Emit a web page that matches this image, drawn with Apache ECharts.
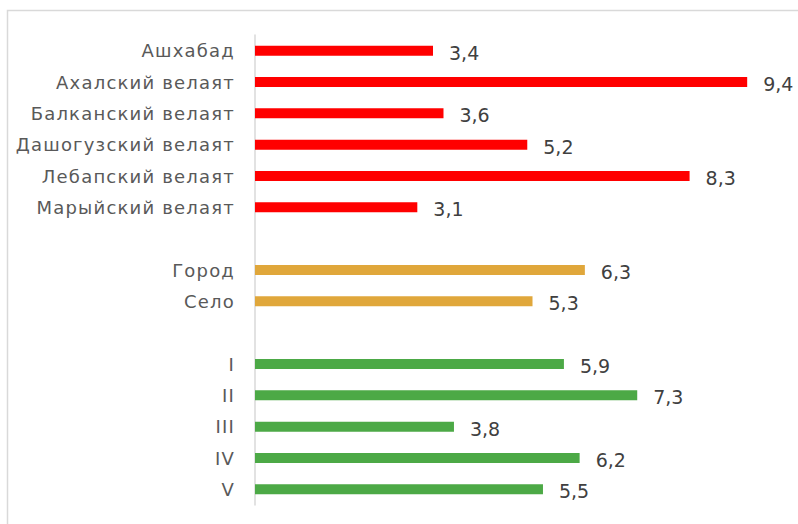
<!DOCTYPE html>
<html>
<head>
<meta charset="utf-8">
<script src="https://cdn.jsdelivr.net/npm/echarts@6/dist/echarts.min.js"></script>
<style>
  html, body { margin: 0; padding: 0; background: #ffffff; }
  #chart { width: 798px; height: 524px; }
  /* wider tracking for the category names */
  #chart text[fill="#595959"] { letter-spacing: 1.2px; }
</style>
</head>
<body>
<div id="chart"></div>
<script>
// Regions (velayats)
const regions = ['Ашхабад', 'Ахалский велаят', 'Балканский велаят', 'Дашогузский велаят', 'Лебапский велаят', 'Марыйский велаят'];
const regionValues = [3.4, 9.4, 3.6, 5.2, 8.3, 3.1];

// Urban / rural
const settlements = ['Город', 'Село'];
const settlementValues = [6.3, 5.3];

// Quintiles
const quintiles = ['I', 'II', 'III', 'IV', 'V'];
const quintileValues = [5.9, 7.3, 3.8, 6.2, 5.5];

// Category list with blank rows separating the groups
const categories = [...regions, ' ', ...settlements, '  ', ...quintiles];

function groupData(offset, values) {
  const out = categories.map(() => '-');
  values.forEach((v, i) => { out[offset + i] = v; });
  return out;
}

const FONT = 'DejaVu Sans';
const labelStyle = {
  show: true,
  position: 'right',
  distance: 16,
  offset: [0, 2],
  color: '#404040',
  fontFamily: FONT,
  fontSize: 19,
  formatter: p => String(p.value).replace('.', ',')
};

function barSeries(values, offset, color) {
  return {
    type: 'bar',
    stack: 'all',
    barWidth: 10,
    data: groupData(offset, values),
    itemStyle: { color: color },
    label: labelStyle,
    silent: true
  };
}

const chart = echarts.init(document.getElementById('chart'), null, { renderer: 'svg' });
chart.setOption({
  animation: false,
  backgroundColor: '#ffffff',
  graphic: [{
    type: 'rect',
    shape: { x: 7.5, y: 10.5, width: 820, height: 540 },
    style: { fill: 'none', stroke: '#d9d9d9', lineWidth: 1.5 },
    silent: true
  }],
  grid: { left: 255, top: 35, right: 19.4, bottom: 19, containLabel: false },
  xAxis: {
    type: 'value',
    min: 0,
    max: 10,
    show: false
  },
  yAxis: {
    type: 'category',
    inverse: true,
    data: categories,
    axisTick: { show: false },
    axisLine: { show: true, lineStyle: { color: '#d9d9d9', width: 1.5 } },
    axisLabel: {
      margin: 20,
      color: '#595959',
      fontFamily: FONT,
      fontSize: 18
    }
  },
  series: [
    barSeries(regionValues, 0, '#ff0000'),
    barSeries(settlementValues, regions.length + 1, '#e0a73b'),
    barSeries(quintileValues, regions.length + settlements.length + 2, '#4ca946')
  ]
});
</script>
</body>
</html>
